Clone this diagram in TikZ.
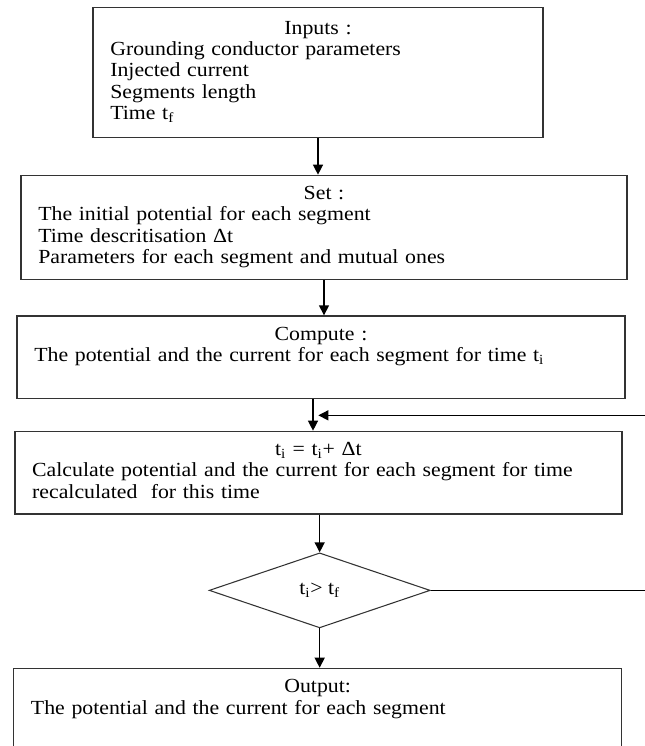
\documentclass[tikz,border=0pt]{standalone}
\usepackage{fontspec}
\setmainfont{Liberation Serif}[FakeStretch=1.09]
\usetikzlibrary{arrows.meta, positioning, shapes.geometric}

\begin{document}
\begin{tikzpicture}[
    >={Triangle[length=7.5pt, width=7.5pt]}, node distance=27.25pt,
    every node/.style={font=\fontsize{15pt}{16pt}\selectfont},
    stepbox/.style={draw=black!80, line width=1pt, text width=#1,
        align=left, inner xsep=13pt, inner ysep=7pt,
        execute at begin node=\strut, execute at end node=\strut},
    testbox/.style={draw=black!80, line width=0.8pt, diamond,
        minimum width=165.75pt, minimum height=56.25pt, inner sep=0pt},
    flow/.style={->, line width=1pt}
  ]
  \useasboundingbox (0,0) rectangle (483.75pt,-559.5pt);

  \node[stepbox=311.5pt, inner ysep=8.75pt, anchor=north] (inputs)
    at (238.5pt,-5.25pt) {\makebox[\hsize]{Inputs :}\\
    Grounding conductor parameters\\
    Injected current\\
    Segments length\\
    Time t\textsubscript{f}};
  \node[stepbox=428.5pt, below=of inputs, xshift=4.5pt] (setup)
    {\makebox[\hsize]{Set :}\\
    The initial potential for each segment\\
    Time descritisation Δt\\
    Parameters for each segment and mutual ones};
  \node[stepbox=430pt, below=26.5pt of setup, xshift=-2.25pt] (compute)
    {\makebox[\hsize]{Compute :}\\
    The potential and the current for each segment for time t\textsubscript{i}\\};
  \node[stepbox=429.25pt, below=23.5pt of compute, xshift=-2pt] (update)
    {\makebox[\hsize]{t\textsubscript{i} = t\textsubscript{i}+ Δt}\\
    Calculate potential and the current for each segment for time\\
    recalculated\ \ for this time};
  \node[testbox, below=28.25pt of update, xshift=1pt] (test)
    {t\textsubscript{i}> t\textsubscript{f}};
  \node[stepbox=430pt, below=29.5pt of test, xshift=-1.5pt] (output)
    {\makebox[\hsize]{Output:}\\
    The potential and the current for each segment\\
    \strut\\};

  \coordinate[below=12pt of compute, xshift=-2pt] (join);
  \coordinate (edge) at (488pt,0pt);

  \draw[flow] (inputs.south) -- (inputs.south |- setup.north);
  \draw[flow] (setup.south) -- (setup.south |- compute.north);
  \draw[flow] ([xshift=-6pt]compute.south) -- ([xshift=-6pt]compute.south |- update.north);
  \draw[flow] (update.south -| test) -- (test.north);
  \draw[flow] (test.south) -- (test.south |- output.north);
  \draw[flow] (test.east) -- (test.east -| edge) |- (join);
\end{tikzpicture}
\end{document}
